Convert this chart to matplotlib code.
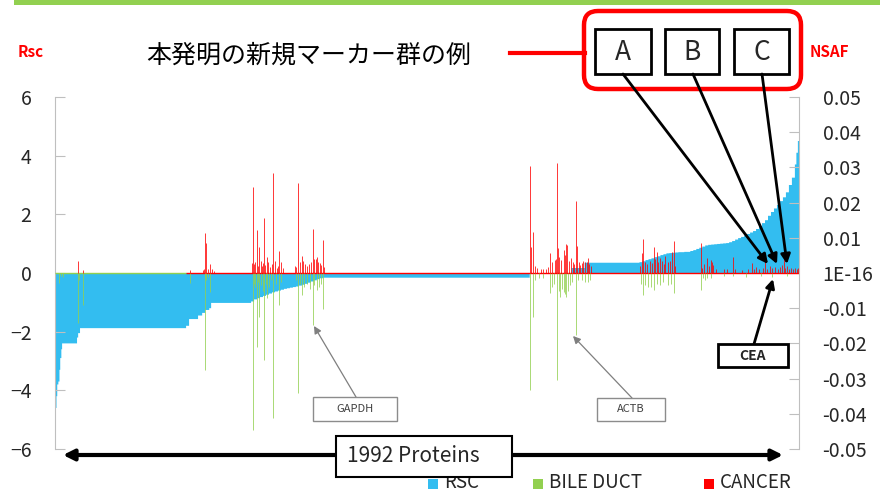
import matplotlib.pyplot as plt
import numpy as np
from matplotlib.patches import Rectangle, FancyBboxPatch

plt.rcParams['font.family'] = ['Noto Sans CJK JP', 'DejaVu Sans']

# RSC (sorted), run-length: level and number of proteins at that level
rsc_levels = [-4.95, -4.6, -4.2, -3.8, -3.7, -3.3, -2.9, -2.6, -2.4, -2.2, -2.05,
              -1.88, -1.8, -1.57, -1.45, -1.36, -1.26, -1.2, -1.02,
              -0.97, -0.90, -0.86, -0.82, -0.78, -0.74, -0.70, -0.66, -0.63, -0.60,
              -0.57, -0.54, -0.52, -0.50, -0.48, -0.46, -0.43, -0.40, -0.37, -0.33,
              -0.29, -0.25, -0.21, -0.18,
              -0.16, 0.0, 0.17, 0.35,
              0.37, 0.40, 0.44, 0.47, 0.50, 0.54, 0.57, 0.61, 0.64, 0.67,
              0.68, 0.69, 0.70, 0.71, 0.71, 0.72, 0.72, 0.75, 0.78, 0.82,
              0.86, 0.90, 0.94, 0.96, 0.97, 0.98, 0.99, 1.00, 1.01, 1.02,
              1.05, 1.09, 1.14, 1.19, 1.23, 1.28, 1.33, 1.38, 1.43, 1.50,
              1.60, 1.70, 1.80, 1.95, 2.08, 2.20, 2.32, 2.45, 2.58, 2.75,
              3.00, 3.25, 3.70, 4.10, 4.50]
rsc_counts = [2, 2, 2, 3, 3, 2, 3, 2, 40, 3, 5,
              284, 8, 24, 11, 8, 11, 5, 107,
              8, 8, 8, 8, 8, 8, 8, 8, 8, 8,
              8, 8, 8, 8, 8, 8, 8, 8, 8, 8,
              8, 8, 8, 8,
              554, 112, 35, 147,
              8, 8, 8, 8, 8, 8, 8, 8, 8, 8,
              8, 8, 8, 8, 8, 8, 8, 8, 8, 8,
              8, 8, 8, 8, 8, 8, 8, 8, 8, 8,
              8, 8, 8, 8, 8, 8, 8, 8, 8, 8,
              8, 8, 8, 8, 8, 8, 8, 8, 8, 8,
              8, 8, 4, 4, 3]

# CANCER NSAF (protein index, value)
cancer_idx = [62, 74, 361, 395, 398, 402, 403, 408, 415, 420, 425,
              527, 529, 532, 535, 540, 544, 547, 550, 553, 556, 560, 563, 567, 571,
              576, 580, 584, 588, 593, 597, 600, 605, 611, 642, 645, 650, 655, 660,
              664, 669, 673, 680, 685, 690, 694, 697, 700, 704, 708, 712, 717, 720,
              1272, 1274, 1280, 1285, 1290, 1300, 1307, 1315, 1320, 1325, 1330, 1337,
              1340, 1343, 1346, 1350, 1355, 1361, 1364, 1367, 1371, 1375, 1380, 1386,
              1390, 1394, 1397, 1402, 1406, 1410, 1414, 1419, 1423, 1427, 1430, 1435,
              1566, 1570, 1575, 1580, 1585, 1592, 1598, 1602, 1606, 1610, 1615, 1620,
              1625, 1630, 1634, 1640, 1645, 1652, 1656, 1660,
              1729, 1733, 1738, 1745, 1750, 1755, 1758, 1762, 1768,
              1790, 1800, 1814, 1820, 1840, 1855, 1865, 1870, 1877, 1885, 1895, 1901,
              1905, 1914, 1920, 1928, 1935, 1940, 1945, 1950, 1955, 1960, 1965, 1970,
              1975, 1981, 1985, 1989]
cancer_nsaf = [0.0033, 0.0008, 0.0008, 0.0008, 0.0010, 0.0114, 0.0085, 0.0012, 0.0025, 0.0010, 0.0006,
               0.0028, 0.0245, 0.0025, 0.0030, 0.0122, 0.0020, 0.0075, 0.0035, 0.0020, 0.0028, 0.0156, 0.0022, 0.0046, 0.0030,
               0.0018, 0.0026, 0.0283, 0.0033, 0.0014, 0.0020, 0.0063, 0.0030, 0.0015, 0.0020, 0.0018, 0.0256, 0.0030, 0.0048,
               0.0035, 0.0025, 0.0020, 0.0025, 0.0030, 0.0124, 0.0039, 0.0040, 0.0046, 0.0032, 0.0028, 0.0022, 0.0093, 0.0018,
               0.0304, 0.0075, 0.0117, 0.0020, 0.0015, 0.0010, 0.0012, 0.0012, 0.0018, 0.0057, 0.0030, 0.0037,
               0.0040, 0.0313, 0.0072, 0.0045, 0.0038, 0.0065, 0.0050, 0.0083, 0.0079, 0.0035, 0.0042, 0.0030,
               0.0025, 0.0204, 0.0077, 0.0030, 0.0022, 0.0028, 0.0035, 0.0032, 0.0030, 0.0042, 0.0025, 0.0020,
               0.0020, 0.0056, 0.0096, 0.0030, 0.0025, 0.0035, 0.0028, 0.0075, 0.0040, 0.0061, 0.0030, 0.0042,
               0.0033, 0.0025, 0.0048, 0.0030, 0.0035, 0.0061, 0.0092, 0.0020,
               0.0085, 0.0015, 0.0025, 0.0042, 0.0020, 0.0037, 0.0030, 0.0023, 0.0012,
               0.0010, 0.0012, 0.0046, 0.0010, 0.0008, 0.0010, 0.0028, 0.0012, 0.0017, 0.0010, 0.0015, 0.0033,
               0.0012, 0.0020, 0.0015, 0.0017, 0.0012, 0.0018, 0.0023, 0.0042, 0.0015, 0.0020, 0.0012, 0.0015,
               0.0010, 0.0013, 0.0012, 0.0013]

# BILE DUCT NSAF (protein index, value) - drawn downward
bile_idx = [9, 15, 20, 62, 65, 74, 361, 400, 402, 405, 410, 415,
            529, 532, 536, 540, 544, 547, 552, 556, 560, 564, 567, 572, 578, 584, 590,
            600, 605, 645, 650, 655, 660, 665, 675, 683, 690, 693, 700, 706, 711, 717,
            1272, 1280, 1285, 1295, 1307, 1325, 1330, 1336, 1343, 1348, 1352, 1356,
            1361, 1364, 1367, 1372, 1378, 1385, 1394, 1400, 1410, 1419, 1427, 1432,
            1568, 1575, 1580, 1588, 1595, 1602, 1610, 1620, 1628, 1640, 1648, 1656,
            1729, 1735, 1740, 1745, 1755, 1790, 1814, 1850, 1890, 1920, 1960]
bile_nsaf = [0.0028, 0.0008, 0.0010, 0.0142, 0.0020, 0.0092, 0.0028, 0.0012, 0.0276, 0.0020, 0.0010, 0.0055,
             0.0446, 0.0030, 0.0040, 0.0210, 0.0025, 0.0125, 0.0035, 0.0050, 0.0248, 0.0030, 0.0071, 0.0040, 0.0020, 0.0412, 0.0030,
             0.0092, 0.0025, 0.0020, 0.0342, 0.0030, 0.0063, 0.0040, 0.0030, 0.0045, 0.0148, 0.0035, 0.0048, 0.0040, 0.0030, 0.0103,
             0.0333, 0.0125, 0.0020, 0.0015, 0.0013, 0.0057, 0.0040, 0.0030, 0.0304, 0.0050, 0.0067, 0.0045,
             0.0054, 0.0060, 0.0068, 0.0050, 0.0035, 0.0025, 0.0176, 0.0020, 0.0020, 0.0025, 0.0025, 0.0020,
             0.0030, 0.0063, 0.0035, 0.0039, 0.0040, 0.0048, 0.0030, 0.0034, 0.0025, 0.0035, 0.0030, 0.0057,
             0.0048, 0.0015, 0.0020, 0.0014, 0.0014, 0.0008, 0.0008, 0.0010, 0.0008, 0.0010, 0.0008]

rsc_ticks = [-6, -4, -2, 0, 2, 4, 6]
nsaf_ticks = [-0.05, -0.04, -0.03, -0.02, -0.01, 0.0, 0.01, 0.02, 0.03, 0.04, 0.05]
nsaf_ticklabels = ['-0.05', '-0.04', '-0.03', '-0.02', '-0.01', '1E-16',
                   '0.01', '0.02', '0.03', '0.04', '0.05']

BLUE = '#33bdf0'
GREEN = '#92d050'
RED = '#ff0000'
GRAY = '#bfbfbf'
TXT = '#262626'

rsc = np.repeat(rsc_levels, rsc_counts)
n = len(rsc)

fig = plt.figure(figsize=(8.8, 4.95), dpi=100)
ax = fig.add_axes([55/880, 1-449/495, (799-55)/880, (449-97)/495])
ax.stairs(rsc, np.arange(n+1), baseline=0, fill=True, color=BLUE, lw=0)
ax.set_xlim(0, n)
ax.set_ylim(-6, 6)
ax.set_yticks(rsc_ticks)
ax.set_xticks([])
ax.tick_params(axis='y', direction='in', length=7, color=GRAY, labelsize=14,
               pad=17, labelcolor=TXT)
for s in ['top', 'bottom', 'right']:
    ax.spines[s].set_visible(False)
ax.spines['left'].set_color(GRAY)

ax2 = ax.twinx()
ax2.set_ylim(-0.05, 0.05)
ax2.set_yticks(nsaf_ticks)
ax2.set_yticklabels(nsaf_ticklabels)
ax2.tick_params(axis='y', direction='in', length=7, color=GRAY, labelsize=14,
                pad=17, labelcolor=TXT)
for s in ['top', 'bottom', 'left']:
    ax2.spines[s].set_visible(False)
ax2.spines['right'].set_color(GRAY)

# baselines at zero
ax2.hlines(0, 0, 351, color=GREEN, lw=1)
ax2.hlines(0, 351, n, color=RED, lw=1)
ax2.vlines(np.array(bile_idx) + 0.5, 0, -np.array(bile_nsaf), color=GREEN, lw=0.55)
ax2.vlines(np.array(cancer_idx) + 0.5, 0, np.array(cancer_nsaf), color=RED, lw=0.55)

# overlay in pixel coordinates for annotations
ov = fig.add_axes([0, 0, 1, 1])
ov.set_xlim(0, 880)
ov.set_ylim(495, 0)
ov.axis('off')

ov.add_patch(Rectangle((14, 0), 866, 5, color=GREEN, lw=0))

ov.text(18, 52, 'Rsc', color=RED, fontsize=11, fontweight='bold', va='center', ha='left')
ov.text(810, 52, 'NSAF', color=RED, fontsize=11, fontweight='bold', va='center', ha='left')
ov.text(146, 56, '本発明の新規マーカー群の例', fontsize=18, va='center', ha='left', color='black')

ov.plot([510, 585], [53, 53], color=RED, lw=3)
ov.add_patch(FancyBboxPatch((584, 11), 217, 78, boxstyle='round,pad=0,rounding_size=14',
                            fc='none', ec=RED, lw=3.2))

for lab, x0, x1 in [('A', 595, 651), ('B', 665, 719), ('C', 734, 789)]:
    ov.add_patch(Rectangle((x0, 29), x1 - x0, 45, fc='white', ec='black', lw=2))
    ov.text((x0 + x1) / 2, 52, lab, fontsize=19, ha='center', va='center', color=TXT)

for src, tip in [((623, 74), (768, 264)), ((693, 74), (777, 264)), ((762, 74), (787, 264))]:
    ov.annotate('', xy=tip, xytext=src,
                arrowprops=dict(arrowstyle='-|>', color='black', lw=2, mutation_scale=14,
                                shrinkA=0, shrinkB=0))

# GAPDH / ACTB labels
for lab, x0, x1, y0, y1, src, tip in [('GAPDH', 313, 397, 397, 421, (356, 397), (314, 326)),
                                      ('ACTB', 597, 665, 398, 421, (632, 398), (573, 336))]:
    ov.annotate('', xy=tip, xytext=src,
                arrowprops=dict(arrowstyle='-|>', color='#7f7f7f', lw=0.9, mutation_scale=11,
                                shrinkA=0, shrinkB=0))
    ov.add_patch(Rectangle((x0, y0), x1 - x0, y1 - y0, fc='white', ec='#8c8c8c', lw=1, zorder=4))
    ov.text((x0 + x1) / 2, (y0 + y1) / 2, lab, fontsize=8, ha='center', va='center',
            color='#404040', zorder=5)

# CEA
ov.annotate('', xy=(773, 279), xytext=(754, 344),
            arrowprops=dict(arrowstyle='-|>', color='black', lw=2, mutation_scale=13,
                            shrinkA=0, shrinkB=0))
ov.add_patch(Rectangle((718, 344), 70, 23, fc='white', ec='black', lw=2, zorder=4))
ov.text(753, 356, 'CEA', fontsize=10, fontweight='bold', ha='center', va='center', color=TXT, zorder=5)

# 1992 Proteins arrow
ov.annotate('', xy=(63, 455), xytext=(783, 455),
            arrowprops=dict(arrowstyle='<|-|>', color='black', lw=3, mutation_scale=16,
                            shrinkA=0, shrinkB=0))
ov.add_patch(Rectangle((336, 436), 176, 41, fc='white', ec='black', lw=1.5, zorder=4))
ov.text(347, 456, '1992 Proteins', fontsize=15, ha='left', va='center', color=TXT, zorder=5)

# legend
for lab, col, x in [('RSC', BLUE, 428), ('BILE DUCT', GREEN, 533), ('CANCER', RED, 704)]:
    ov.add_patch(Rectangle((x, 479), 10, 10, color=col, lw=0))
    ov.text(x + 16, 483, lab, fontsize=13.5, ha='left', va='center', color=TXT)

fig.savefig('out.png', dpi=100)
